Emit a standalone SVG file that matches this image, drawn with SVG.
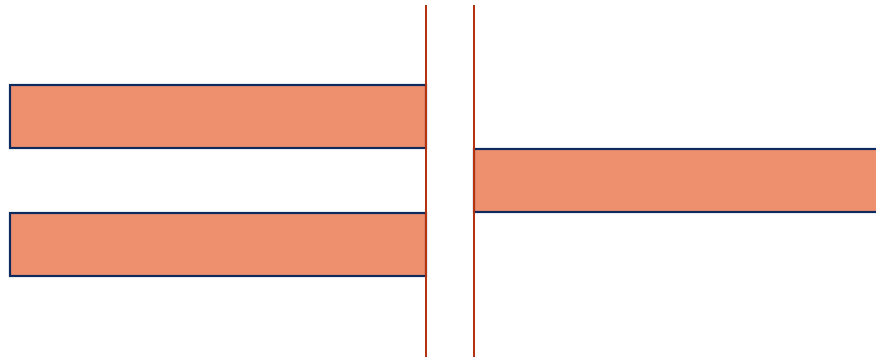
<svg xmlns="http://www.w3.org/2000/svg" width="876" height="358" viewBox="0 0 876 358">
<style>
.bar{fill:#EE8F6E;stroke:#0E2A5E;stroke-width:2.2}
.wall{stroke:#B3330E;stroke-width:2;fill:none}
</style>
<rect width="876" height="358" fill="#fff"/>
<g id="bar-top-left"><rect class="bar" x="10" y="85" width="416" height="63"/></g>
<g id="bar-bottom-left"><rect class="bar" x="10" y="213" width="416" height="63"/></g>
<g id="bar-right"><rect class="bar" x="474" y="149" width="404" height="63"/></g>
<g id="connectors">
<line class="wall" x1="426" y1="5" x2="426" y2="357"/>
<line class="wall" x1="474" y1="5" x2="474" y2="357"/>
</g>
</svg>
